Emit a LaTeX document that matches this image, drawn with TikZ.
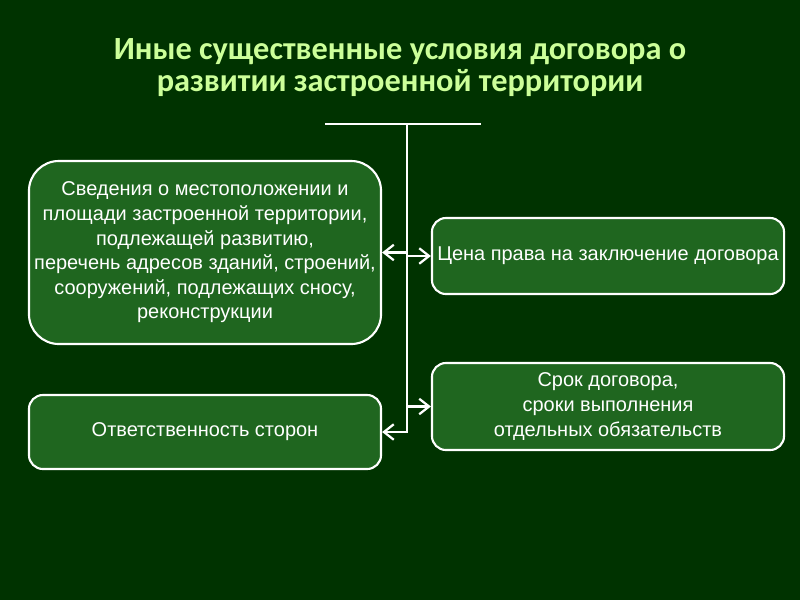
\documentclass[tikz,border=0pt]{standalone}
\usepackage{fontspec}
\setmainfont{Liberation Sans}
\newfontfamily\titlefont{Carlito}
\usepackage{xcolor}
\usetikzlibrary{arrows.meta}

\definecolor{bgdark}{HTML}{003300}
\definecolor{boxgreen}{HTML}{1F661F}
\definecolor{titlegreen}{HTML}{CCFF99}

\begin{document}
\begin{tikzpicture}[
    x=0.025cm, y=-0.025cm,
    cond/.style={rectangle, draw=white, line width=1.5pt, fill=boxgreen, rounded corners=0.35cm, text=white, font=\fontsize{14.2}{17.5}\selectfont, align=center, inner sep=0pt, minimum width=8.8cm},
    title/.style={font=\titlefont\bfseries\fontsize{23}{22.8}\selectfont, text=titlegreen, align=center},
    link/.style={draw=white, line width=1.6pt},
    arrow/.style={link, -{Straight Barb[length=7pt, width=11pt, line width=1.6pt]}}
]

% Background
\fill[bgdark] (0,0) rectangle (800,600);
\useasboundingbox (0,0) rectangle (800,600);

% Title
\node[title] (title) at (400,68) {Иные существенные условия договора о\\развитии застроенной территории};

% Left column
\node[cond, rounded corners=0.75cm, minimum height=4.575cm] at (205,252.5) (place) {Сведения о местоположении и \\ площади застроенной территории,\\подлежащей развитию,\\перечень адресов зданий, строений,\\сооружений, подлежащих сносу,\\реконструкции};
\node[cond, minimum height=1.85cm] at (205,432) (resp) {Ответственность сторон};

% Right column
\node[cond, minimum height=1.9cm] at (608,256) (price) {Цена права на заключение договора};
\node[cond, minimum height=2.175cm] at (608,406.5) (term) {Срок договора,\\сроки выполнения\\отдельных обязательств};

% Trunk
\coordinate (barl) at (325,124);
\coordinate (barr) at (481,124);
\coordinate (top) at (407,124);
\draw[link] (barl) -- (barr);
\draw[arrow] (top) |- (resp.east);

% Branches
\draw[arrow] (top |- place.east) -- (place.east);
\draw[arrow] (top |- price.west) -- (price.west);
\draw[arrow] (top |- term.west) -- (term.west);

\end{tikzpicture}
\end{document}
